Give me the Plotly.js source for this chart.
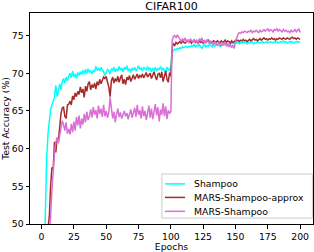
<!DOCTYPE html>
<html><head><meta charset="utf-8">
<script src="https://cdn.plot.ly/plotly-3.0.1.min.js"></script>
<style>html,body{margin:0;padding:0;background:#fff}#chart{width:314px;height:252px}</style>
</head><body><div id="chart"></div>
<script>
const seriesNames = ["Shampoo", "MARS-Shampoo-approx", "MARS-Shampoo"];
const seriesColors = ["#00ffff", "#a52a2a", "#da70d6"];
const xTicks = [0, 25, 50, 75, 100, 125, 150, 175, 200];
const yTicks = [50, 55, 60, 65, 70, 75];

const shampoo = [
38, 46, 53, 59, 62, 63.8, 65.2, 65.8, 66.2, 66.8,
68.4, 66.9, 67.6, 68.6, 67.8, 68.9, 69.3, 68.7, 69.5, 69.0,
69.6, 70.0, 69.4, 70.3, 69.5, 69.9, 69.3, 70.1, 69.7, 70.2,
69.8, 70.4, 69.9, 70.5, 70.0, 70.6, 70.1, 70.3, 69.9, 70.4,
70.2, 70.9, 70.4, 70.7, 70.3, 70.8, 70.5, 70.2, 69.7, 70.1,
70.5, 70.3, 69.9, 70.6, 70.4, 70.8, 70.2, 70.6, 70.3, 70.9,
70.4, 70.7, 70.2, 70.8, 70.5, 71.0, 70.3, 70.6, 70.1, 70.7,
70.4, 70.8, 70.3, 70.6, 71.0, 70.5, 70.7, 70.3, 70.8, 70.6,
70.4, 70.9, 70.5, 70.7, 70.2, 70.6, 70.4, 70.8, 70.3, 70.6,
70.5, 70.9, 70.4, 70.7, 70.3, 70.1, 70.8, 70.5, 70.3, 70.9,
72.7, 73.0, 73.2, 73.1, 73.3, 73.2, 73.4, 73.3, 73.5, 73.4,
73.5, 73.6, 73.4, 73.6, 73.5, 73.7, 73.6, 73.8, 73.5, 73.7,
73.6, 73.8, 73.5, 73.3, 73.6, 73.8, 73.5, 73.7, 73.6, 73.9,
73.7, 73.5, 73.8, 73.6, 73.9, 73.7, 73.8, 73.5, 73.8, 73.7,
73.9, 73.8, 74.0, 73.7, 73.9, 73.8, 74.1, 73.9, 74.0, 74.2,
74.0, 74.1, 73.9, 74.1, 74.0, 74.2, 74.0, 74.1, 73.9, 74.1,
74.0, 74.2, 74.1, 73.9, 74.1, 74.0, 74.2, 74.1, 74.0, 74.1,
74.2, 74.0, 74.1, 74.2, 74.0, 74.1, 74.2, 74.1, 74.0, 74.2,
74.1, 74.2, 74.0, 74.1, 74.2, 74.1, 74.3, 74.1, 74.2, 74.0,
74.1, 74.2, 74.1, 74.2, 74.0, 74.1, 74.2, 74.1, 74.2, 74.1
];
const marsApprox = [
30, 38, 44, 48, 49.5, 51, 55, 57.5, 57.3, 60.9,
59.5, 61.4, 61.0, 63.0, 64.6, 65.4, 65.5, 64.3, 64.0, 65.8,
65.9, 66.3, 65.8, 67.0, 66.5, 67.4, 66.9, 67.6, 67.2, 68.2,
67.4, 67.9, 66.8, 68.3, 67.6, 68.6, 68.9, 67.8, 68.5, 68.1,
68.7, 67.9, 68.9, 68.4, 69.2, 68.6, 69.0, 69.5, 69.3, 69.6,
68.8, 68.2, 66.9, 69.0, 69.5, 68.7, 69.3, 68.9, 69.6, 68.8,
69.4, 69.8, 68.6, 69.2, 68.5, 69.5, 69.1, 69.7, 68.9, 69.3,
69.8, 69.2, 69.6, 69.9, 69.3, 69.7, 69.5, 69.9, 69.4, 69.8,
70.1, 69.5, 69.8, 70.0, 69.3, 69.7, 70.2, 69.6, 69.1, 69.9,
70.0, 69.4, 70.2, 68.9, 69.7, 70.3, 69.2, 68.8, 70.1, 69.6,
73.5, 73.9, 73.7, 74.1, 73.9, 74.0, 74.2, 74.0, 74.3, 74.1,
74.0, 74.2, 74.3, 74.1, 74.3, 74.0, 74.2, 74.4, 74.1, 74.2,
74.0, 74.3, 74.1, 74.2, 74.0, 74.3, 74.1, 74.2, 74.4, 74.1,
74.2, 74.0, 74.3, 74.2, 74.1, 74.3, 74.2, 74.0, 74.3, 74.1,
74.2, 74.4, 74.1, 74.3, 74.2, 74.0, 74.3, 74.1, 74.2, 74.4,
74.3, 74.4, 74.2, 74.4, 74.3, 74.5, 74.3, 74.4, 74.2, 74.4,
74.5, 74.3, 74.4, 74.6, 74.4, 74.5, 74.3, 74.5, 74.6, 74.4,
74.5, 74.7, 74.5, 74.6, 74.4, 74.6, 74.5, 74.7, 74.5, 74.6,
74.4, 74.6, 74.5, 74.7, 74.6, 74.5, 74.7, 74.6, 74.5, 74.7,
74.6, 74.5, 74.7, 74.8, 74.6, 74.7, 74.5, 74.7, 74.6, 74.5
];
const marsShampoo = [
25, 32, 38, 43, 47, 49, 51, 54.5, 57.5, 59.5,
60.8, 61.5, 60.7, 61.9, 62.8, 63.7, 63.2, 62.4, 63.5, 62.0,
62.6, 61.9, 63.3, 62.2, 63.6, 62.4, 64.2, 63.1, 64.4, 62.7,
64.0, 63.2, 64.6, 63.5, 64.9, 63.8, 64.3, 65.2, 64.1, 65.5,
64.5, 65.1, 64.0, 65.7, 64.6, 65.3, 64.2, 65.8, 64.3, 65.0,
64.1, 64.8, 66.8, 65.2, 64.0, 64.9, 63.5, 64.6, 65.3, 64.2,
64.8, 64.0, 64.5, 65.0, 64.3, 64.7, 63.9, 64.4, 65.2, 64.1,
64.6, 65.4, 64.2, 65.8, 64.5, 65.1, 64.0, 65.6, 64.3, 65.0,
63.8, 64.9, 65.7, 64.1, 65.3, 63.9, 64.8, 65.9, 64.4, 65.5,
63.6, 65.2, 64.5, 66.0, 64.3, 65.6, 63.9, 65.1, 64.7, 64.9,
74.3, 74.9, 75.0, 74.7, 75.1, 74.8, 74.5, 74.2, 74.6, 74.3,
74.7, 74.2, 74.5, 74.0, 74.6, 74.3, 74.1, 74.5, 74.2, 74.4,
74.0, 74.6, 74.3, 74.7, 74.1, 74.4, 74.0, 74.5, 74.2, 73.9,
74.3, 74.1, 73.8, 74.2, 74.0, 73.7, 74.1, 73.9, 73.6, 74.0,
73.8, 74.1, 73.6, 73.9, 73.5, 73.8, 73.4, 73.7, 73.3, 74.2,
74.9, 75.2, 75.4, 75.3, 75.5, 75.4, 75.6, 75.5, 75.4, 75.6,
75.5, 75.7, 75.4, 75.6, 75.5, 75.7, 75.6, 75.4, 75.7, 75.5,
75.6, 75.8, 75.6, 75.7, 75.9, 75.6, 75.8, 75.7, 75.5, 75.8,
75.7, 75.9, 75.6, 75.8, 75.7, 75.5, 75.8, 75.6, 75.7, 75.5,
75.6, 75.4, 75.7, 75.5, 75.6, 75.8, 75.5, 75.7, 75.9, 75.4
];
const epochs = shampoo.map((_, i) => i + 1);
const allSeries = [shampoo, marsApprox, marsShampoo];

const traces = allSeries.map((ys, k) => ({
  x: epochs, y: ys, type: 'scatter', mode: 'lines', name: seriesNames[k],
  line: {color: seriesColors[k], width: 1.5}
}));

const font = {family: 'DejaVu Sans, sans-serif', size: 9.3, color: '#000'};
const axisCommon = {showgrid: false, zeroline: false, showline: true, mirror: true,
  linecolor: '#000', linewidth: 1, ticks: 'outside', ticklen: 3.5, tickcolor: '#000',
  tickwidth: 1, tickfont: font};

// compact legend box drawn in paper coordinates (matplotlib-style)
const legX0 = 0.466, legX1 = 0.998, legY0 = 0.028, legY1 = 0.237;
const entryY = [0.190, 0.126, 0.060];
const shapes = [{type: 'rect', xref: 'paper', yref: 'paper', x0: legX0, x1: legX1, y0: legY0, y1: legY1,
  line: {color: '#cccccc', width: 1}, fillcolor: 'rgba(255,255,255,0.8)', layer: 'above'}];
const annotations = [];
seriesNames.forEach((nm, k) => {
  shapes.push({type: 'line', xref: 'paper', yref: 'paper', x0: 0.477, x1: 0.548,
    y0: entryY[k], y1: entryY[k], line: {color: seriesColors[k], width: 1.5}, layer: 'above'});
  annotations.push({xref: 'paper', yref: 'paper', x: 0.572, y: entryY[k], xanchor: 'left',
    yanchor: 'middle', text: nm, showarrow: false, font: font});
});

Plotly.newPlot('chart', traces, {
  width: 314, height: 252,
  margin: {l: 30, r: 1, t: 13, b: 28},
  paper_bgcolor: '#fff', plot_bgcolor: '#fff',
  font: font,
  title: {text: 'CIFAR100', font: {family: 'DejaVu Sans, sans-serif', size: 11, color: '#000'},
    xref: 'paper', x: 0.5, xanchor: 'center', y: 0.975, yanchor: 'middle'},
  xaxis: Object.assign({}, axisCommon, {range: [-8.95, 209.95], tickvals: xTicks,
    title: {text: 'Epochs', font: font, standoff: 7}}),
  yaxis: Object.assign({}, axisCommon, {range: [50, 78], tickvals: yTicks,
    title: {text: 'Test Accuracy (%)', font: font, standoff: 4}}),
  showlegend: false,
  shapes: shapes,
  annotations: annotations
}, {staticPlot: true, displayModeBar: false});
</script></body></html>
